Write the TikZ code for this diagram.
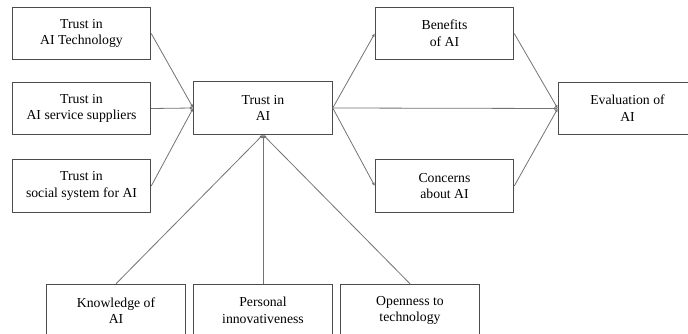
\documentclass[tikz,border=0pt]{standalone}
\usepackage{fontspec}
\setmainfont{Liberation Serif}
\newfontfamily\boxfont{Liberation Serif}
\usetikzlibrary{arrows.meta}

\begin{document}
\begin{tikzpicture}[x=0.75pt, y=-0.75pt,
  box/.style={draw=black!70, line width=0.6pt, minimum width=104pt, minimum height=39.5pt,
    align=center, inner sep=2pt, font=\boxfont\fontsize{10.3}{12.5}\selectfont},
  link/.style={draw=black!55, line width=0.6pt, -{Latex[length=2.6pt,width=2.4pt]}}]
\useasboundingbox (0,0) rectangle (688,334);

% Trust sources
\node[box] (tech) at (81.5,33.5) {Trust in\\AI Technology};
\node[box] (supp) at (81.5,108.5) {Trust in\\AI service suppliers};
\node[box] (soc) at (81.5,186) {Trust in\\social system for AI};

% Central node
\node[box] (trust) at (263,108) {Trust in\\AI};

% Outcomes
\node[box] (ben) at (444.5,33.5) {Benefits\\of AI};
\node[box] (con) at (444.5,186) {Concerns\\about AI};
\node[box] (eval) at (627.5,108.5) {Evaluation of\\AI};

% Antecedents
\node[box] (know) at (116,310.5) {Knowledge of\\AI};
\node[box] (pers) at (263,310.5) {Personal\\innovativeness};
\node[box] (open) at (410,310.5) {Openness to\\technology};

% Connections
\draw[link] (tech.east) -- (trust.west);
\draw[link] (supp.east) -- (trust.west);
\draw[link] (soc.east) -- (trust.west);
\draw[link] (trust.east) -- (ben.west);
\draw[link] (trust.east) -- (con.west);
\draw[link] (trust.east) -- (eval.west);
\draw[link] (ben.east) -- (eval.west);
\draw[link] (con.east) -- (eval.west);
\draw[link] (know.north) -- (trust.south);
\draw[link] (pers.north) -- (trust.south);
\draw[link] (open.north) -- (trust.south);
\end{tikzpicture}
\end{document}
